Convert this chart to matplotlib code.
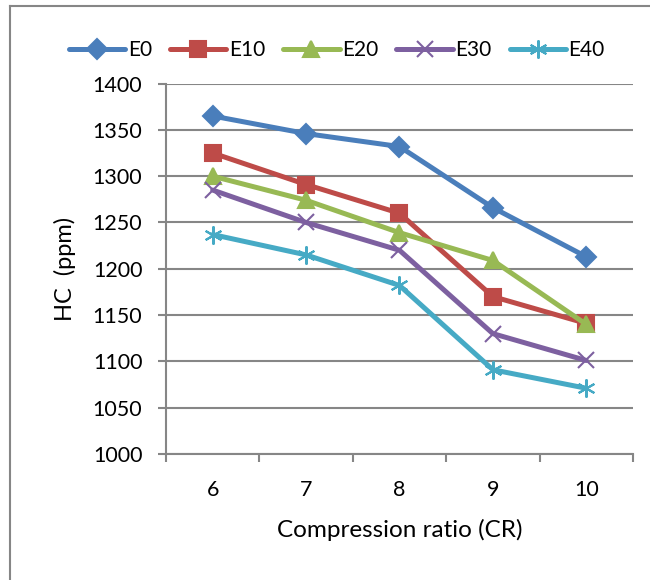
import matplotlib.pyplot as plt
from matplotlib.lines import Line2D

cr = [6, 7, 8, 9, 10]
e0 = [1365, 1346, 1332, 1266, 1213]
e10 = [1325, 1291, 1260, 1170, 1141]
e20 = [1300, 1274, 1239, 1209, 1140]
e30 = [1285, 1250, 1220, 1130, 1101]
e40 = [1237, 1215, 1182, 1091, 1071]
names = ['E0', 'E10', 'E20', 'E30', 'E40']

plt.rcParams['font.family'] = ['Lato', 'DejaVu Sans']

colors = ['#4A7EBB', '#BE4B48', '#98B954', '#7D60A0', '#46AAC5']
markers = ['D', 's', '^', 'x', (6, 2, 0)]
msizes = [10, 11, 11, 11, 13]
series = [e0, e10, e20, e30, e40]

fig = plt.figure(figsize=(6.5, 5.8), dpi=100)
ax = fig.add_axes([0.2554, 0.2172, 0.7184, 0.6387])

for ys, c, m, ms, name in zip(series, colors, markers, msizes, names):
    ax.plot(cr, ys, color=c, lw=3.6, marker=m, ms=ms, mew=1.5,
            mec=c, mfc=c, label=name, solid_capstyle='round')

ax.set_xlim(5.5, 10.5)
ax.set_ylim(1000, 1400)
ax.set_yticks(range(1000, 1401, 50))
ax.set_xticks(cr)
ax.set_xticks([5.5, 6.5, 7.5, 8.5, 9.5, 10.5], minor=True)
ax.tick_params(axis='x', which='major', length=0, pad=19, labelsize=15.5)
ax.tick_params(axis='x', which='minor', length=6, width=1.5, color='#868686')
ax.tick_params(axis='y', length=6, width=1.5, color='#868686', labelsize=15.5, pad=11)
ax.grid(axis='y', color='#868686', lw=1.5)
ax.set_axisbelow(True)
for s in ['top', 'right']:
    ax.spines[s].set_visible(False)
for s in ['left', 'bottom']:
    ax.spines[s].set_color('#868686')
    ax.spines[s].set_linewidth(1.5)

ax.set_xlabel('Compression ratio (CR)', fontsize=17.5, labelpad=13)
ax.set_ylabel('HC  (ppm)', fontsize=17, labelpad=12)

ax.legend(loc='center', bbox_to_anchor=(0.366, 1.09), ncol=5, frameon=False,
          fontsize=15, handlelength=2.7, columnspacing=0.87, handletextpad=0.12,
          borderpad=0, borderaxespad=0)

# chart border (top and left visible)
fig.add_artist(Line2D([10 / 650, 10 / 650], [0, 1 - 6 / 580], color='#868686', lw=1.5))
fig.add_artist(Line2D([10 / 650, 1], [1 - 6 / 580, 1 - 6 / 580], color='#868686', lw=1.5))

fig.savefig('out.png', dpi=100)
